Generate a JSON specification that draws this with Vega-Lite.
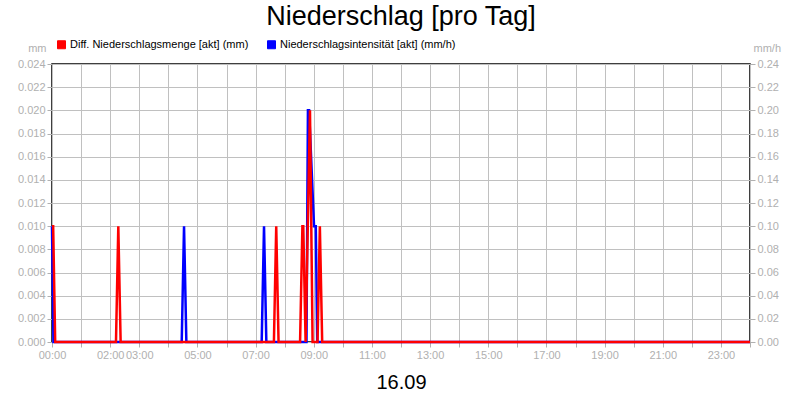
{
  "$schema": "https://vega.github.io/schema/vega-lite/v6.json",
  "autosize": "none",
  "width": 698,
  "height": 278,
  "padding": {"left": 52, "top": 64, "right": 50, "bottom": 58},
  "background": "white",
  "title": {"text": "Niederschlag [pro Tag]", "font": "Liberation Sans", "fontSize": 27, "fontWeight": "normal", "color": "black", "anchor": "middle", "offset": -13, "baseline": "alphabetic"},
  "datasets": {
    "menge": [
      {"series": "Diff. Niederschlagsmenge [akt] (mm)", "hour": 0, "value": 0.01},
      {"series": "Diff. Niederschlagsmenge [akt] (mm)", "hour": 0.04, "value": 0.01},
      {"series": "Diff. Niederschlagsmenge [akt] (mm)", "hour": 0.11, "value": 0},
      {"series": "Diff. Niederschlagsmenge [akt] (mm)", "hour": 2.2, "value": 0},
      {"series": "Diff. Niederschlagsmenge [akt] (mm)", "hour": 2.28, "value": 0.01},
      {"series": "Diff. Niederschlagsmenge [akt] (mm)", "hour": 2.36, "value": 0},
      {"series": "Diff. Niederschlagsmenge [akt] (mm)", "hour": 7.63, "value": 0},
      {"series": "Diff. Niederschlagsmenge [akt] (mm)", "hour": 7.71, "value": 0.01},
      {"series": "Diff. Niederschlagsmenge [akt] (mm)", "hour": 7.79, "value": 0},
      {"series": "Diff. Niederschlagsmenge [akt] (mm)", "hour": 8.53, "value": 0},
      {"series": "Diff. Niederschlagsmenge [akt] (mm)", "hour": 8.61, "value": 0.01},
      {"series": "Diff. Niederschlagsmenge [akt] (mm)", "hour": 8.64, "value": 0.01},
      {"series": "Diff. Niederschlagsmenge [akt] (mm)", "hour": 8.72, "value": 0},
      {"series": "Diff. Niederschlagsmenge [akt] (mm)", "hour": 8.87, "value": 0.02},
      {"series": "Diff. Niederschlagsmenge [akt] (mm)", "hour": 8.96, "value": 0},
      {"series": "Diff. Niederschlagsmenge [akt] (mm)", "hour": 9.13, "value": 0},
      {"series": "Diff. Niederschlagsmenge [akt] (mm)", "hour": 9.21, "value": 0.01},
      {"series": "Diff. Niederschlagsmenge [akt] (mm)", "hour": 9.29, "value": 0},
      {"series": "Diff. Niederschlagsmenge [akt] (mm)", "hour": 24, "value": 0}
    ],
    "intens": [
      {"series": "Niederschlagsintensität [akt] (mm/h)", "hour": 0, "value": 0.1},
      {"series": "Niederschlagsintensität [akt] (mm/h)", "hour": 0.05, "value": 0},
      {"series": "Niederschlagsintensität [akt] (mm/h)", "hour": 4.46, "value": 0},
      {"series": "Niederschlagsintensität [akt] (mm/h)", "hour": 4.54, "value": 0.1},
      {"series": "Niederschlagsintensität [akt] (mm/h)", "hour": 4.62, "value": 0},
      {"series": "Niederschlagsintensität [akt] (mm/h)", "hour": 7.21, "value": 0},
      {"series": "Niederschlagsintensität [akt] (mm/h)", "hour": 7.29, "value": 0.1},
      {"series": "Niederschlagsintensität [akt] (mm/h)", "hour": 7.37, "value": 0},
      {"series": "Niederschlagsintensität [akt] (mm/h)", "hour": 8.75, "value": 0},
      {"series": "Niederschlagsintensität [akt] (mm/h)", "hour": 8.8, "value": 0.2},
      {"series": "Niederschlagsintensität [akt] (mm/h)", "hour": 8.84, "value": 0.2},
      {"series": "Niederschlagsintensität [akt] (mm/h)", "hour": 9.01, "value": 0.1},
      {"series": "Niederschlagsintensität [akt] (mm/h)", "hour": 9.07, "value": 0.1},
      {"series": "Niederschlagsintensität [akt] (mm/h)", "hour": 9.12, "value": 0},
      {"series": "Niederschlagsintensität [akt] (mm/h)", "hour": 24, "value": 0}
    ]
  },
  "config": {
    "font": "Liberation Sans",
    "view": {"stroke": "black", "strokeWidth": 1.5},
    "axis": {
      "labelFont": "Liberation Sans", "labelFontSize": 11, "labelColor": "#b0b0b0",
      "gridColor": "#c0c0c0", "gridWidth": 1, "gridOpacity": 1,
      "tickColor": "#b0b0b0", "tickSize": 5, "domain": false
    }
  },
  "encoding": {
    "x": {
      "field": "hour", "type": "quantitative",
      "scale": {"domain": [0, 24], "nice": false, "zero": false},
      "axis": {
        "values": [0,1,2,3,4,5,6,7,8,9,10,11,12,13,14,15,16,17,18,19,20,21,22,23,24],
        "labelExpr": "indexof([0,2,3,5,7,9,11,13,15,17,19,21,23], datum.value) >= 0 ? (datum.value < 10 ? '0' + datum.value : '' + datum.value) + ':00' : ''",
        "labelPadding": 2,
        "labelFlush": false,
        "labelOverlap": false,
        "title": "16.09",
        "titleFont": "Liberation Sans", "titleFontSize": 20, "titleFontWeight": "normal", "titleColor": "black",
        "titlePadding": 12
      }
    },
    "color": {
      "field": "series", "type": "nominal",
      "scale": {"domain": ["Diff. Niederschlagsmenge [akt] (mm)", "Niederschlagsintensität [akt] (mm/h)"], "range": ["#ff0000", "#0000ff"]},
      "legend": {
        "title": null, "orient": "none", "direction": "horizontal",
        "legendX": 4, "legendY": -25,
        "symbolType": "square", "symbolSize": 64, "symbolStrokeColor": "#202020", "symbolStrokeWidth": 1,
        "labelFont": "Liberation Sans", "labelFontSize": 11, "labelColor": "black", "labelLimit": 300,
        "columnPadding": 16, "symbolOffset": 0, "labelOffset": 3,
        "encode": {"symbols": {"update": {"fill": {"scale": "color", "field": "value"}, "fillOpacity": {"value": 1}, "stroke": {"value": "#202020"}}}}
      }
    }
  },
  "layer": [
    {
      "data": {"name": "intens"},
      "mark": {"type": "line", "strokeWidth": 2.5, "interpolate": "linear"},
      "encoding": {
        "y": {
          "field": "value", "type": "quantitative",
          "scale": {"domain": [0, 0.24], "nice": false},
          "axis": {
            "orient": "right", "values": [0,0.02,0.04,0.06,0.08,0.1,0.12,0.14,0.16,0.18,0.2,0.22,0.24],
            "format": ".2f", "grid": false, "labelPadding": 2,
            "title": "mm/h", "titleAngle": 0, "titleX": 3, "titleY": -16, "titleAlign": "left", "titleBaseline": "middle",
            "titleFont": "Liberation Sans", "titleFontSize": 11, "titleFontWeight": "normal", "titleColor": "#b0b0b0"
          }
        }
      }
    },
    {
      "data": {"name": "menge"},
      "mark": {"type": "line", "strokeWidth": 2.5, "interpolate": "linear"},
      "encoding": {
        "y": {
          "field": "value", "type": "quantitative",
          "scale": {"domain": [0, 0.024], "nice": false},
          "axis": {
            "orient": "left", "values": [0,0.002,0.004,0.006,0.008,0.01,0.012,0.014,0.016,0.018,0.02,0.022,0.024],
            "format": ".3f", "grid": true, "labelPadding": 2,
            "title": "mm", "titleAngle": 0, "titleX": -6, "titleY": -16, "titleAlign": "right", "titleBaseline": "middle",
            "titleFont": "Liberation Sans", "titleFontSize": 11, "titleFontWeight": "normal", "titleColor": "#b0b0b0"
          }
        }
      }
    }
  ],
  "resolve": {"scale": {"y": "independent"}}
}
